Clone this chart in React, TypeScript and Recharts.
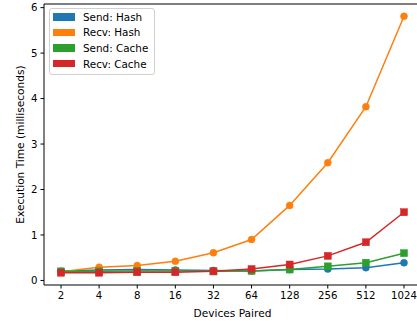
import React from 'react';
import { LineChart, Line, XAxis, YAxis, ReferenceLine } from 'recharts';

const categories = ['2', '4', '8', '16', '32', '64', '128', '256', '512', '1024'];
const sendHash = [0.2, 0.23, 0.24, 0.23, 0.22, 0.21, 0.24, 0.25, 0.28, 0.39];
const recvHash = [0.19, 0.29, 0.33, 0.42, 0.61, 0.9, 1.65, 2.59, 3.82, 5.81];
const sendCache = [0.2, 0.2, 0.21, 0.21, 0.2, 0.21, 0.24, 0.31, 0.39, 0.6];
const recvCache = [0.17, 0.17, 0.18, 0.18, 0.2, 0.25, 0.35, 0.54, 0.84, 1.5];
const yTicks = [0, 1, 2, 3, 4, 5, 6];

const series = [
  { key: 'sendHash', name: 'Send: Hash', color: '#1f77b4', shape: 'circle' },
  { key: 'recvHash', name: 'Recv: Hash', color: '#ff7f0e', shape: 'circle' },
  { key: 'sendCache', name: 'Send: Cache', color: '#2ca02c', shape: 'square' },
  { key: 'recvCache', name: 'Recv: Cache', color: '#d62728', shape: 'square' },
];

const data = categories.map((c, i) => ({
  cat: c,
  sendHash: sendHash[i],
  recvHash: recvHash[i],
  sendCache: sendCache[i],
  recvCache: recvCache[i],
}));

const FONT = 'DejaVu Sans, sans-serif';

const makeDot = (color: string, shape: string) => (props: any) => {
  const { cx, cy, index } = props;
  if (cx == null || cy == null) return <g key={index} />;
  if (shape === 'square') {
    return <rect key={index} x={cx - 3.5} y={cy - 3.5} width={7} height={7} fill={color} stroke={color} strokeWidth={0.5} />;
  }
  return <circle key={index} cx={cx} cy={cy} r={3.5} fill={color} stroke={color} strokeWidth={0.5} />;
};

const LegendBox = () => (
  <div
    style={{
      position: 'absolute',
      left: 49,
      top: 8,
      width: 106,
      height: 67,
      boxSizing: 'border-box',
      border: '1px solid #d0d0d0',
      borderRadius: 3,
      background: 'rgba(255,255,255,0.8)',
      fontFamily: FONT,
      fontSize: 10.4,
      color: '#000',
      padding: '0 0 0 3px',
    }}
  >
    {series.map((s) => (
      <div key={s.key} style={{ display: 'flex', alignItems: 'center', height: 15.6 }}>
        <div style={{ width: 22, height: 7.5, background: s.color, marginRight: 8 }} />
        <span style={{ lineHeight: '12px' }}>{s.name}</span>
      </div>
    ))}
  </div>
);

export default function App() {
  return (
    <div style={{ position: 'absolute', left: 0, top: 0, width: 417, height: 321, overflow: 'hidden', background: '#fff' }}>
      <LineChart width={421} height={321} data={data} margin={{ top: 4, right: 0, bottom: 0, left: 0 }}>
        <XAxis
          dataKey="cat"
          type="category"
          padding={{ left: 17, right: 17 }}
          height={36}
          tickSize={3.5}
          tickMargin={3}
          stroke="#000"
          tick={{ fill: '#000', fontSize: 10.2, fontFamily: FONT }}
          tickLine={{ stroke: '#000' }}
          label={{ value: 'Devices Paired', position: 'insideBottom', offset: 4, fill: '#000', fontSize: 10.6, fontFamily: FONT }}
        />
        <YAxis
          type="number"
          domain={[-0.1, 6.08]}
          ticks={yTicks}
          width={44}
          tickSize={3.5}
          tickMargin={3}
          stroke="#000"
          allowDataOverflow
          tick={{ fill: '#000', fontSize: 10.2, fontFamily: FONT }}
          tickLine={{ stroke: '#000' }}
          label={{ value: 'Execution Time (milliseconds)', angle: -90, position: 'insideLeft', offset: 20, fill: '#000', fontSize: 10.6, fontFamily: FONT, style: { textAnchor: 'middle' } }}
        />
        <ReferenceLine y={6.08} stroke="#000" strokeWidth={1} ifOverflow="visible" />
        {series.map((s) => (
          <Line
            key={s.key}
            dataKey={s.key}
            name={s.name}
            stroke={s.color}
            strokeWidth={1.5}
            dot={makeDot(s.color, s.shape)}
            activeDot={false}
            isAnimationActive={false}
            type="linear"
          />
        ))}
      </LineChart>
      <LegendBox />
    </div>
  );
}
